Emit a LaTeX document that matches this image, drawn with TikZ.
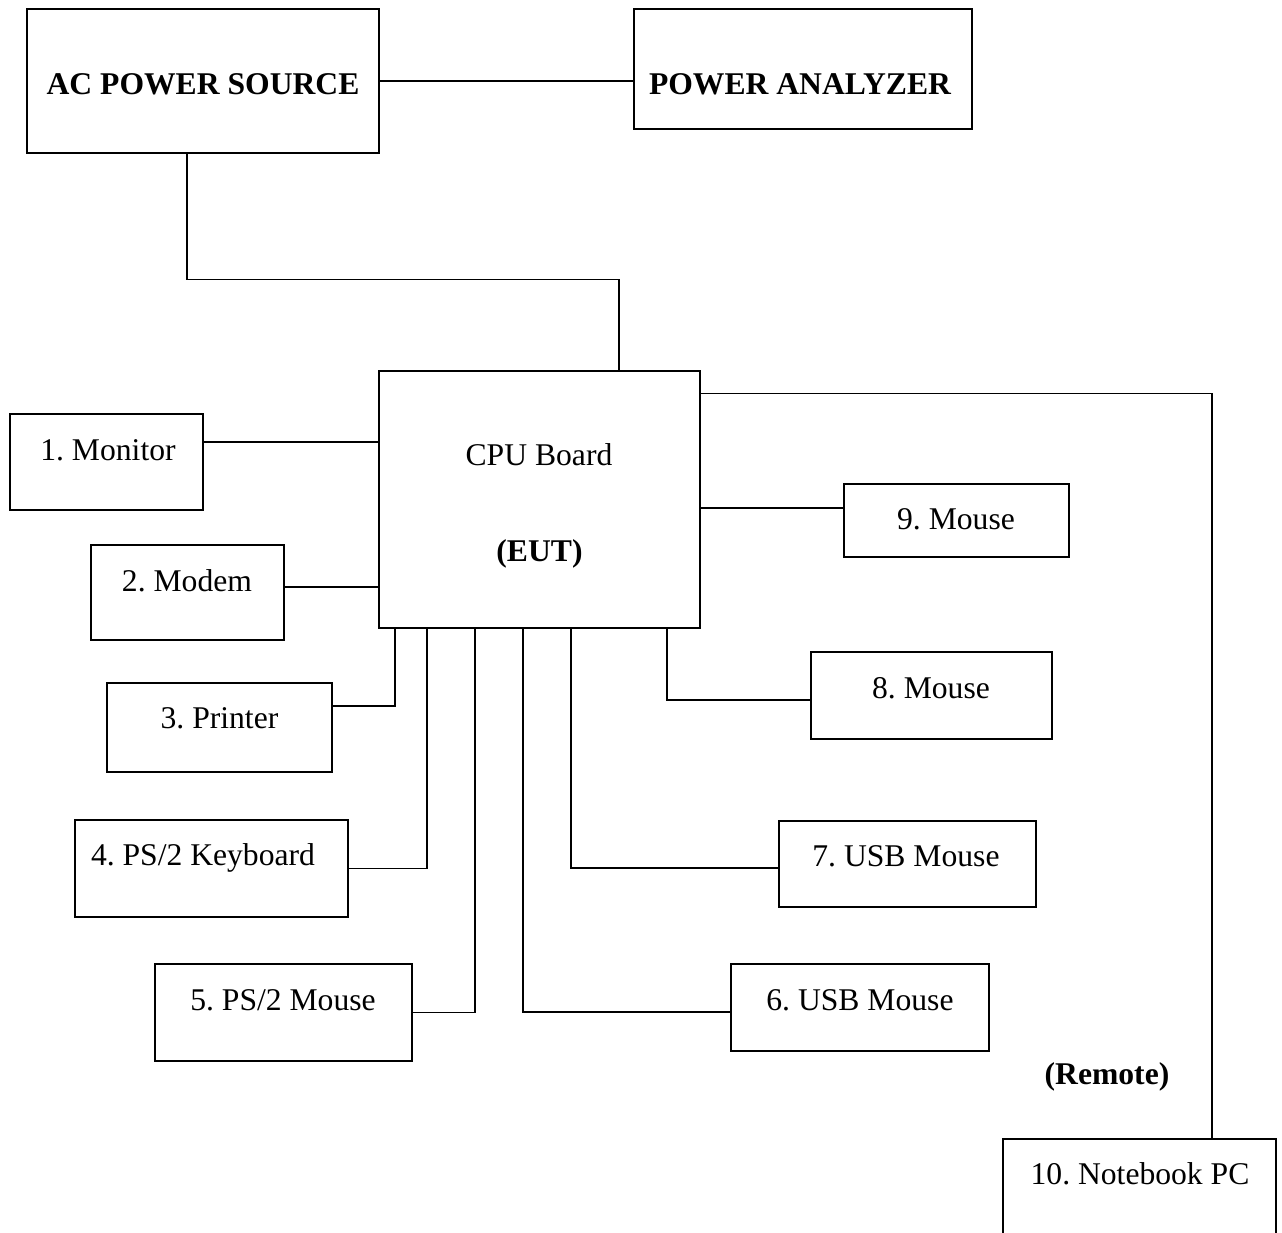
\documentclass[tikz,border=0pt]{standalone}
\usepackage{fontspec}
\setmainfont{Liberation Serif}
\usetikzlibrary{fit}
\frenchspacing

\begin{document}
\begin{tikzpicture}[
    x=0.02cm, y=-0.02cm,
    unitbox/.style={rectangle, draw, line width=0.8pt, inner sep=0pt},
    wire/.style={line width=0.75pt},
    txt/.style={anchor=base, inner sep=0pt, font=\fontsize{18}{22}\selectfont},
    txtb/.style={txt, font=\fontsize{18}{22}\selectfont\bfseries}
]
\useasboundingbox (0,0) rectangle (1282,1233);
\clip (0,0) rectangle (1282,1233);

% Power source and analyzer
\node[unitbox, fit={(27,9) (379,153)}] (ac) {};
\node[txtb] (ac-t) at (203,95) {AC POWER SOURCE};
\node[unitbox, fit={(634,9) (972,129)}] (pa) {};
\node[txtb] (pa-t) at (800,95) {POWER ANALYZER};

% EUT
\node[unitbox, fit={(379,371) (700,628)}] (cpu) {};
\node[txt] (cpu-t) at (539,465) {CPU Board};
\node[txtb] (eut-t) at (539.5,561) {(EUT)};

% Left side peripherals
\node[unitbox, fit={(10,414) (203,510)}] (mon) {};
\node[txt] (mon-t) at (108,460) {1. Monitor};
\node[unitbox, fit={(91,545) (284,640)}] (mod) {};
\node[txt] (mod-t) at (187,591) {2. Modem};
\node[unitbox, fit={(107,683) (332,772)}] (prn) {};
\node[txt] (prn-t) at (219.5,728) {3. Printer};
\node[unitbox, fit={(75,820) (348,917)}] (kbd) {};
\node[txt] (kbd-t) at (203,865) {4. PS/2 Keyboard};
\node[unitbox, fit={(155,964) (412,1061)}] (ps2) {};
\node[txt] (ps2-t) at (283,1010) {5. PS/2 Mouse};

% Right side peripherals
\node[unitbox, fit={(731,964) (989,1051)}] (usb6) {};
\node[txt] (usb6-t) at (860,1010) {6. USB Mouse};
\node[unitbox, fit={(779,821) (1036,907)}] (usb7) {};
\node[txt] (usb7-t) at (906,866) {7. USB Mouse};
\node[unitbox, fit={(811,652) (1052,739)}] (m8) {};
\node[txt] (m8-t) at (931,698) {8. Mouse};
\node[unitbox, fit={(844,484) (1069,557)}] (m9) {};
\node[txt] (m9-t) at (956,529) {9. Mouse};

% Remote notebook (runs off the page)
\node[txtb] (rem-t) at (1107,1084) {(Remote)};
\node[unitbox, fit={(1003,1139) (1276,1300)}] (nb) {};
\node[txt] (nb-t) at (1140,1184) {10. Notebook PC};

% Power wiring
\draw[wire] (ac.east) -- (ac.east -| pa.west);
\draw[wire] ([xshift=-0.32cm]ac.south) -- ++(0,126) -| ([xshift=1.59cm]cpu.north);

% Cables left
\draw[wire] ([yshift=0.4cm]mon.east) coordinate (mon-p) -- (mon-p -| cpu.west);
\draw[wire] ([yshift=0.11cm]mod.east) coordinate (mod-p) -- (mod-p -| cpu.west);
\draw[wire] ([xshift=-2.89cm]cpu.south) |- ([yshift=0.43cm]prn.east);
\draw[wire] ([xshift=-2.25cm]cpu.south) |- (kbd.east);
\draw[wire] ([xshift=-1.29cm]cpu.south) |- (ps2.east);

% Cables right
\draw[wire] ([xshift=-0.33cm]cpu.south) |- ([yshift=-0.09cm]usb6.west);
\draw[wire] ([xshift=0.63cm]cpu.south) |- ([yshift=-0.08cm]usb7.west);
\draw[wire] ([xshift=2.55cm]cpu.south) |- ([yshift=-0.09cm]m8.west);
\draw[wire] ([yshift=0.25cm]m9.west) coordinate (m9-p) -- (m9-p -| cpu.east);
\draw[wire] ([yshift=-0.46cm]cpu.north east) -| ([xshift=1.45cm]nb.north);

\end{tikzpicture}
\end{document}
